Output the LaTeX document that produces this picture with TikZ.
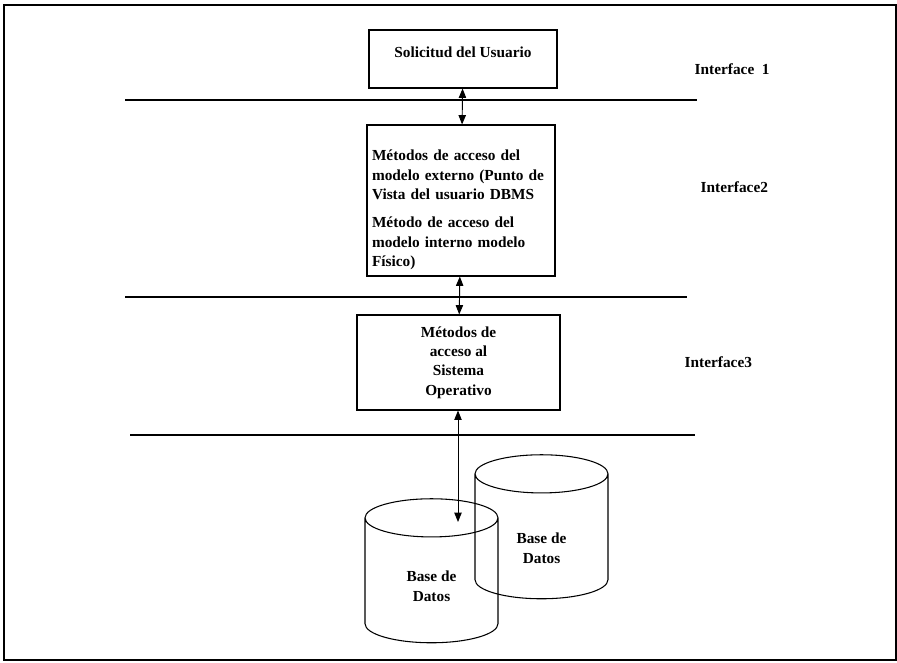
\documentclass[tikz,border=0pt]{standalone}
\usepackage{fontspec}
\setmainfont{Liberation Serif}
\usetikzlibrary{shapes.geometric,arrows.meta}

\tikzset{
  capa/.style={draw, line width=0.8pt, rectangle, inner xsep=3.75pt, inner ysep=2pt,
    font=\bfseries\fontsize{11.5}{14.6}\selectfont},
  base/.style={draw, line width=0.8pt, cylinder, shape border rotate=90, aspect=0.65,
    align=center, font=\bfseries\fontsize{11.5}{15}\selectfont},
  nivel/.style={line width=0.9pt},
  etiqueta/.style={anchor=west, font=\bfseries\fontsize{11.5}{14}\selectfont},
  acceso/.style={line width=0.7pt, {Triangle[length=7pt,width=5.5pt]}-{Triangle[length=7pt,width=5.5pt]}},
}

\begin{document}
\begin{tikzpicture}[x=0.75pt,y=-0.75pt]
\useasboundingbox (0,0) rectangle (897,662);
\draw[line width=1pt] (4,5) rectangle (896,660);
% capas
\node[capa, minimum width=141pt, minimum height=43.5pt, text height=8pt, text depth=10.5pt] (1) at (463,59) {Solicitud del Usuario};
\node[capa, minimum width=141pt, minimum height=113.25pt, text width=133.5pt, align=left] (2) at (461,200.5)
  {\rule{0pt}{22pt}Métodos de acceso del\\ modelo externo (Punto de\\ Vista del usuario DBMS\\[6.4pt]
   Método de acceso del\\ modelo interno modelo\\ Físico)};
\node[capa, minimum width=152.25pt, minimum height=71.25pt, align=center] (3) at (458.5,362.5)
  {Métodos de\\ acceso al\\ Sistema\\ Operativo};
% bases de datos
\node[base, minimum width=99.75pt, minimum height=108pt] (5) at (541.5,540) {\rule{0pt}{20pt}Base de\\ Datos};
\node[base, minimum width=99.75pt, minimum height=108pt] (4) at (431.5,584) {\rule{0pt}{11pt}Base de\\ Datos};
\coordinate (4t) at (458,522);
% interfaces
\node[etiqueta] (i1) at (690,69) {Interface\ \ 1};
\node[etiqueta] (i2) at (696,187) {Interface2};
\node[etiqueta] (i3) at (680,362) {Interface3};
\draw[nivel] (125,100) -- (697,100);
\draw[nivel] (125,297) -- (687,297);
\draw[nivel] (130,435) -- (695,435);
% flechas
\path[draw,acceso] (1) -- (2);
\path[draw,acceso] (2) -- (3);
\path[draw,acceso] (3.south -| 4t) -- (4t);
\end{tikzpicture}
\end{document}
